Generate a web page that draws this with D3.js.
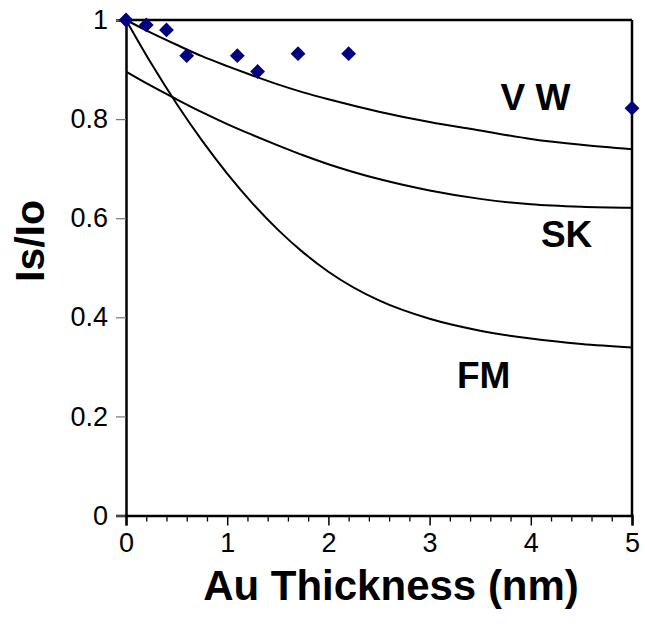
<!DOCTYPE html>
<html>
<head>
<meta charset="utf-8">
<script src="https://cdn.jsdelivr.net/npm/d3@7"></script>
<style>
  html, body { margin: 0; padding: 0; background: #fff; }
  svg { display: block; }
  text { font-family: "Liberation Sans", Arial, sans-serif; }
</style>
</head>
<body>
<svg id="chart" width="645" height="629"></svg>
<script>
// ---- data ----
const xTicks = [0, 1, 2, 3, 4, 5];
const yTicks = [0, 0.2, 0.4, 0.6, 0.8, 1];
const yTickLabels = ["0", "0.2", "0.4", "0.6", "0.8", "1"];

// measured points (Au thickness nm, Is/Io)
const measX = [0, 0.2, 0.4, 0.6, 1.1, 1.3, 1.7, 2.2, 5];
const measY = [1.0, 0.99, 0.98, 0.928, 0.928, 0.896, 0.932, 0.932, 0.822];

// model curves
const curveX = [0, 0.25, 0.5, 0.75, 1, 1.25, 1.5, 1.75, 2, 2.5, 3, 3.5, 4, 4.5, 5];
const vwY = [1.0, 0.974, 0.950, 0.927, 0.907, 0.888, 0.870, 0.854, 0.840, 0.815, 0.794, 0.777, 0.760, 0.748, 0.739];
const skY = [0.896, 0.867, 0.840, 0.814, 0.790, 0.768, 0.747, 0.727, 0.709, 0.679, 0.656, 0.639, 0.628, 0.623, 0.621];
const fmY = [1.0, 0.912, 0.831, 0.757, 0.690, 0.630, 0.577, 0.531, 0.492, 0.434, 0.397, 0.373, 0.357, 0.346, 0.339];

const modelNames = ["V W", "SK", "FM"];
const labelX = [3.70, 4.10, 3.27];
const labelY = [0.818, 0.542, 0.257];

const xTitle = "Au Thickness (nm)";
const yTitle = "Is/Io";

// ---- layout ----
const svg = d3.select("#chart");
const mLeft = 126, mRight = 632, mTop = 20, mBottom = 515.5;

const x = d3.scaleLinear().domain([0, 5]).range([mLeft, mRight]);
const y = d3.scaleLinear().domain([0, 1]).range([mBottom, mTop]);

// frame (top and right)
svg.append("line").attr("x1", mLeft).attr("x2", mRight).attr("y1", mTop).attr("y2", mTop)
  .attr("stroke", "#000").attr("stroke-width", 2.5);
svg.append("line").attr("x1", mRight).attr("x2", mRight).attr("y1", mTop).attr("y2", mBottom)
  .attr("stroke", "#000").attr("stroke-width", 2.5);

// y axis
const yAxis = d3.axisLeft(y).tickValues(yTicks).tickSize(10).tickPadding(8)
  .tickFormat((d, i) => yTickLabels[i]);
const gy = svg.append("g").attr("transform", `translate(${mLeft},0)`).call(yAxis);
gy.select(".domain").attr("stroke", "#000").attr("stroke-width", 2.5);
gy.selectAll(".tick line").attr("stroke", "#777").attr("stroke-width", 1.2);
gy.selectAll(".tick text").attr("font-size", 27).attr("fill", "#000")
  .attr("font-family", "Liberation Sans, Arial, sans-serif");

// x axis: minor ticks then major
const minorTicks = d3.range(0, 5.0001, 0.2).filter(v => Math.abs(v - Math.round(v)) > 1e-6);
const gxm = svg.append("g").attr("transform", `translate(0,${mBottom})`)
  .call(d3.axisBottom(x).tickValues(minorTicks).tickSize(6).tickFormat(""));
gxm.select(".domain").remove();
gxm.selectAll(".tick line").attr("stroke", "#000").attr("stroke-width", 1.3);

const gx = svg.append("g").attr("transform", `translate(0,${mBottom})`)
  .call(d3.axisBottom(x).tickValues(xTicks).tickSize(10).tickPadding(7).tickFormat(d3.format("d")));
gx.select(".domain").attr("stroke", "#000").attr("stroke-width", 2.5);
gx.selectAll(".tick line").attr("stroke", "#000").attr("stroke-width", 1.5);
gx.selectAll(".tick text").attr("font-size", 27).attr("fill", "#000")
  .attr("font-family", "Liberation Sans, Arial, sans-serif");

// curves
const line = d3.line().x(d => x(d[0])).y(d => y(d[1])).curve(d3.curveMonotoneX);
[vwY, skY, fmY].forEach(ys => {
  svg.append("path")
    .datum(curveX.map((v, i) => [v, ys[i]]))
    .attr("d", line)
    .attr("fill", "none")
    .attr("stroke", "#000")
    .attr("stroke-width", 2);
});

// diamonds
const diamond = d3.symbol().type(d3.symbolSquare).size(110);
svg.append("g").selectAll("path")
  .data(measX.map((v, i) => [v, measY[i]]))
  .join("path")
  .attr("d", diamond)
  .attr("transform", d => `translate(${x(d[0])},${y(d[1])}) rotate(45)`)
  .attr("fill", "#000080");

// model labels
svg.append("g").selectAll("text")
  .data(modelNames)
  .join("text")
  .attr("x", (d, i) => x(labelX[i]))
  .attr("y", (d, i) => y(labelY[i]))
  .attr("font-size", 37)
  .attr("font-weight", "bold")
  .attr("fill", "#000")
  .text(d => d);

// axis titles
svg.append("text")
  .attr("x", 391).attr("y", 600)
  .attr("text-anchor", "middle")
  .attr("font-size", 42).attr("font-weight", "bold")
  .text(xTitle);

svg.append("text")
  .attr("transform", `translate(44,241) rotate(-90)`)
  .attr("text-anchor", "middle")
  .attr("font-size", 41).attr("font-weight", "bold")
  .text(yTitle);
</script>
</body>
</html>
